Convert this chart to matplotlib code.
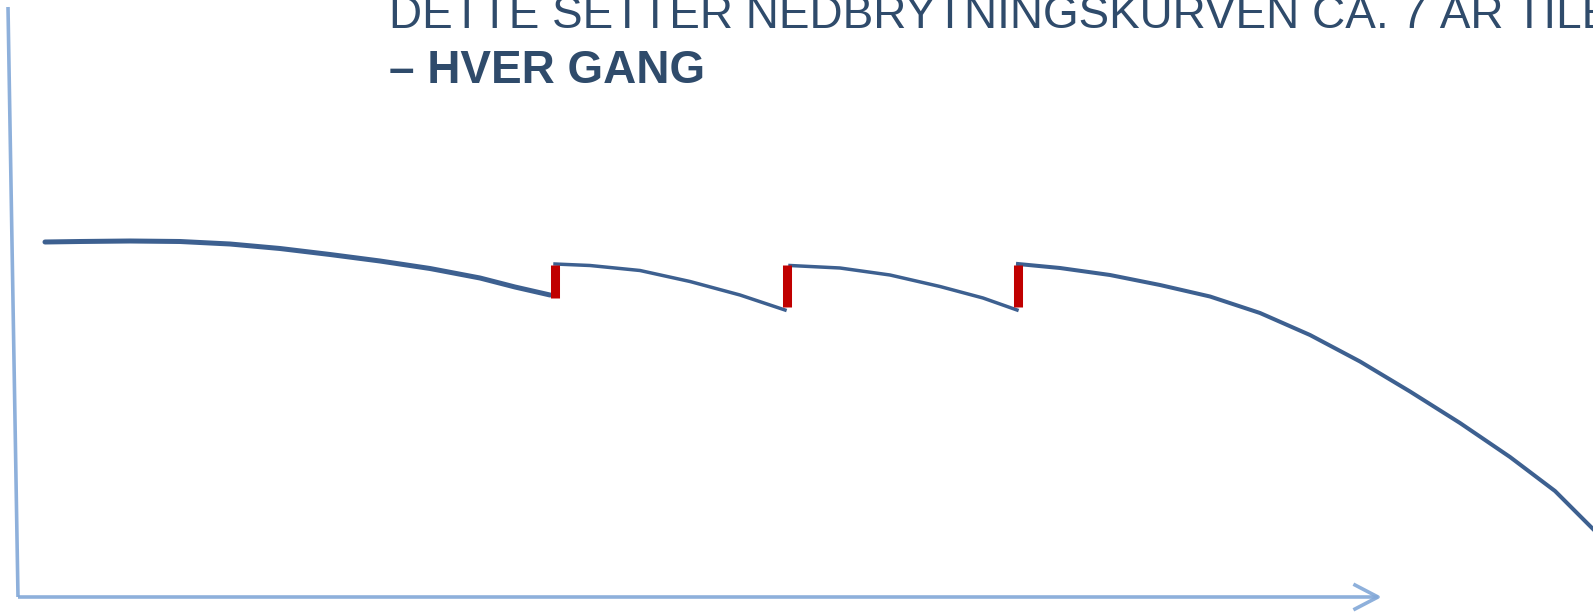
import matplotlib
matplotlib.use("Agg")
import matplotlib.pyplot as plt

# figur i pikselkoordinater (1593 x 614)
W, H = 1593, 614

# nedbrytningskurve, fire biter (x, y i piksler, y nedover)
seg1_x = [45, 80, 130, 180, 230, 280, 330, 380, 430, 480, 515, 550]
seg1_y = [242, 241.5, 241, 241.5, 244, 248.5, 254.5, 261, 268.5, 278, 287, 295]
seg2_x = [555, 590, 640, 690, 740, 785]
seg2_y = [264, 265.5, 270.5, 281.5, 295, 310]
seg3_x = [790, 840, 890, 940, 983, 1017]
seg3_y = [265.5, 268, 275, 286.5, 298, 310]
seg4_x = [1018, 1060, 1110, 1160, 1210, 1260, 1310, 1360, 1410, 1460, 1510, 1555, 1593]
seg4_y = [264, 268, 275, 285, 296.5, 313, 335, 361.5, 391.5, 423, 457, 491, 529]

# røde markeringer (tiltak)
mark_x = [555, 786.5, 1017.5]
mark_top = [264.5, 264.5, 264.5]
mark_bot = [298, 307, 307]

# akser
yaxis_x = [8, 18]
yaxis_y = [7, 597]
xaxis_x = [18, 1378]
xaxis_y = [597, 597]
arrow_x = [1355, 1378, 1355]
arrow_y = [585, 597, 609]

line1 = "DETTE SETTER NEDBRYTNINGSKURVEN CA. 7 ÅR TILBAKE"
line2 = "– HVER GANG"

fig = plt.figure(figsize=(W / 100, H / 100), dpi=100)
ax = fig.add_axes([0, 0, 1, 1])
ax.set_xlim(0, W)
ax.set_ylim(H, 0)
ax.axis("off")

axcol = "#82a8d8"
ax.plot(yaxis_x, yaxis_y, color=axcol, lw=2.6, solid_capstyle="butt", alpha=0.9)
ax.plot(xaxis_x, xaxis_y, color=axcol, lw=2.6, solid_capstyle="butt", alpha=0.9)
ax.plot(arrow_x, arrow_y, color=axcol, lw=2.6, alpha=0.9)

curve = "#3d6090"
ax.plot(seg1_x, seg1_y, color=curve, lw=3.6, solid_capstyle="round", solid_joinstyle="round")
ax.plot(seg2_x, seg2_y, color=curve, lw=2.5, solid_joinstyle="round")
ax.plot(seg3_x, seg3_y, color=curve, lw=2.5, solid_joinstyle="round")
ax.plot(seg4_x, seg4_y, color=curve, lw=2.9, solid_joinstyle="round")

ax.vlines(mark_x, mark_top, mark_bot, color="#c00000", lw=6.5)

txtcol = "#2f4b6b"
ax.text(389, 28, line1, fontsize=33, color=txtcol, family="Liberation Sans",
        va="baseline", ha="left")
ax.text(389, 83, line2, fontsize=33, color=txtcol, family="Liberation Sans",
        weight="bold", va="baseline", ha="left")

fig.savefig("out.png", dpi=100)
